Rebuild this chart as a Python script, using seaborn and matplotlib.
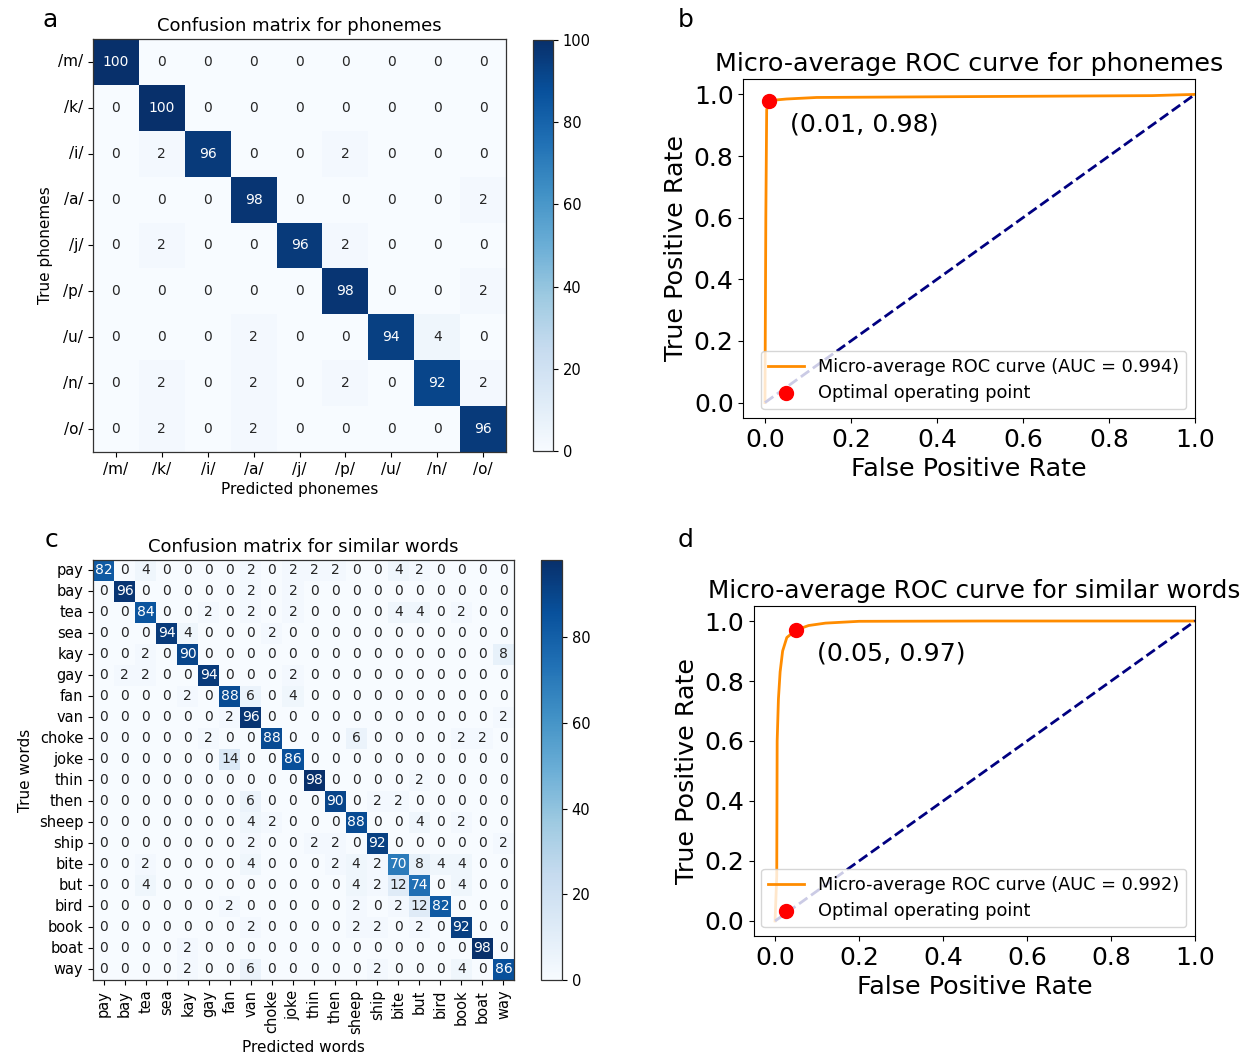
import matplotlib
matplotlib.use("Agg")
import pandas as pd
import seaborn as sns
import matplotlib.pyplot as plt

# confusion matrix values (%)
phonemes = ["/m/", "/k/", "/i/", "/a/", "/j/", "/p/", "/u/", "/n/", "/o/"]
cm_phonemes = [
    [100, 0, 0, 0, 0, 0, 0, 0, 0],
    [0, 100, 0, 0, 0, 0, 0, 0, 0],
    [0, 2, 96, 0, 0, 2, 0, 0, 0],
    [0, 0, 0, 98, 0, 0, 0, 0, 2],
    [0, 2, 0, 0, 96, 2, 0, 0, 0],
    [0, 0, 0, 0, 0, 98, 0, 0, 2],
    [0, 0, 0, 2, 0, 0, 94, 4, 0],
    [0, 2, 0, 2, 0, 2, 0, 92, 2],
    [0, 2, 0, 2, 0, 0, 0, 0, 96],
]

words = ["pay", "bay", "tea", "sea", "kay", "gay", "fan", "van", "choke", "joke",
         "thin", "then", "sheep", "ship", "bite", "but", "bird", "book", "boat", "way"]
cm_words = [
    [82, 0, 4, 0, 0, 0, 0, 2, 0, 2, 2, 2, 0, 0, 4, 2, 0, 0, 0, 0],
    [0, 96, 0, 0, 0, 0, 0, 2, 0, 2, 0, 0, 0, 0, 0, 0, 0, 0, 0, 0],
    [0, 0, 84, 0, 0, 2, 0, 2, 0, 2, 0, 0, 0, 0, 4, 4, 0, 2, 0, 0],
    [0, 0, 0, 94, 4, 0, 0, 0, 2, 0, 0, 0, 0, 0, 0, 0, 0, 0, 0, 0],
    [0, 0, 2, 0, 90, 0, 0, 0, 0, 0, 0, 0, 0, 0, 0, 0, 0, 0, 0, 8],
    [0, 2, 2, 0, 0, 94, 0, 0, 0, 2, 0, 0, 0, 0, 0, 0, 0, 0, 0, 0],
    [0, 0, 0, 0, 2, 0, 88, 6, 0, 4, 0, 0, 0, 0, 0, 0, 0, 0, 0, 0],
    [0, 0, 0, 0, 0, 0, 2, 96, 0, 0, 0, 0, 0, 0, 0, 0, 0, 0, 0, 2],
    [0, 0, 0, 0, 0, 2, 0, 0, 88, 0, 0, 0, 6, 0, 0, 0, 0, 2, 2, 0],
    [0, 0, 0, 0, 0, 0, 14, 0, 0, 86, 0, 0, 0, 0, 0, 0, 0, 0, 0, 0],
    [0, 0, 0, 0, 0, 0, 0, 0, 0, 0, 98, 0, 0, 0, 0, 2, 0, 0, 0, 0],
    [0, 0, 0, 0, 0, 0, 0, 6, 0, 0, 0, 90, 0, 2, 2, 0, 0, 0, 0, 0],
    [0, 0, 0, 0, 0, 0, 0, 4, 2, 0, 0, 0, 88, 0, 0, 4, 0, 2, 0, 0],
    [0, 0, 0, 0, 0, 0, 0, 2, 0, 0, 2, 2, 0, 92, 0, 0, 0, 0, 0, 2],
    [0, 0, 2, 0, 0, 0, 0, 4, 0, 0, 0, 2, 4, 2, 70, 8, 4, 4, 0, 0],
    [0, 0, 4, 0, 0, 0, 0, 0, 0, 0, 0, 0, 4, 2, 12, 74, 0, 4, 0, 0],
    [0, 0, 0, 0, 0, 0, 2, 0, 0, 0, 0, 0, 2, 0, 2, 12, 82, 0, 0, 0],
    [0, 0, 0, 0, 0, 0, 0, 2, 0, 0, 0, 0, 2, 2, 0, 2, 0, 92, 0, 0],
    [0, 0, 0, 0, 2, 0, 0, 0, 0, 0, 0, 0, 0, 0, 0, 0, 0, 0, 98, 0],
    [0, 0, 0, 0, 2, 0, 0, 6, 0, 0, 0, 0, 0, 2, 0, 0, 0, 4, 0, 86],
]

# ROC curves, points
fpr_phonemes = [0.0, 0.002, 0.004, 0.01, 0.05, 0.12, 0.5, 0.9, 1.0]
tpr_phonemes = [0.0, 0.6, 0.95, 0.98, 0.985, 0.99, 0.993, 0.996, 1.0]
auc_phonemes = 0.994
opt_phonemes = (0.01, 0.98)

fpr_words = [0.0, 0.004, 0.005, 0.008, 0.012, 0.018, 0.028, 0.05, 0.08, 0.12, 0.2, 0.5, 1.0]
tpr_words = [0.0, 0.15, 0.6, 0.74, 0.83, 0.9, 0.945, 0.97, 0.985, 0.993, 0.999, 1.0, 1.0]
auc_words = 0.992
opt_words = (0.05, 0.97)

chance = [0, 1]
rate_ticks = [0.0, 0.2, 0.4, 0.6, 0.8, 1.0]

fig = plt.figure(figsize=(12.47, 10.63), dpi=100)


def draw_cm(rect, cbar_rect, cm, labels, title, xlabel, ylabel, xrot, ticksize):
    ax = fig.add_axes(rect)
    cax = fig.add_axes(cbar_rect)
    df = pd.DataFrame(cm, index=labels, columns=labels)
    sns.heatmap(df, ax=ax, cbar_ax=cax, cmap="Blues", annot=True, fmt="d",
                annot_kws={"size": 10})
    for sp in ax.spines.values():
        sp.set_visible(True)
        sp.set_linewidth(0.9)
        sp.set_color("#333333")
    cb = ax.collections[0].colorbar
    cb.outline.set_linewidth(0.9)
    cb.outline.set_edgecolor("#333333")
    cb.ax.tick_params(labelsize=10.5)
    ax.set_title(title, fontsize=13)
    ax.set_xlabel(xlabel, fontsize=11)
    ax.set_ylabel(ylabel, fontsize=11)
    ax.tick_params(labelsize=ticksize)
    plt.setp(ax.get_xticklabels(), rotation=xrot)
    plt.setp(ax.get_yticklabels(), rotation=0)
    return ax


def draw_roc(rect, fpr, tpr, auc, opt, title, title_size):
    ax = fig.add_axes(rect)
    sns.lineplot(x=fpr, y=tpr, ax=ax, sort=False, estimator=None, color="darkorange",
                 lw=2, label=f"Micro-average ROC curve (AUC = {auc:.3f})")
    ax.plot(chance, chance, color="navy", lw=2, linestyle="--")
    ax.scatter([opt[0]], [opt[1]], color="red", s=100, zorder=5,
               label="Optimal operating point")
    ax.annotate(f"({opt[0]:.2f}, {opt[1]:.2f})", opt, xytext=(15, -17),
                textcoords="offset points", va="center", fontsize=18.3)
    ax.set_xlim(-0.05, 1.0)
    ax.set_ylim(-0.05, 1.05)
    ax.set_xticks(rate_ticks)
    ax.set_yticks(rate_ticks)
    ax.set_xlabel("False Positive Rate", fontsize=18.3)
    ax.set_ylabel("True Positive Rate", fontsize=18.3)
    ax.set_title(title, fontsize=title_size)
    ax.tick_params(labelsize=18)
    ax.legend(loc="lower right", fontsize=12.8, labelspacing=0.45)
    return ax


draw_cm([0.0746, 0.5748, 0.3312, 0.3885], [0.4274, 0.5757, 0.016, 0.3866],
        cm_phonemes, phonemes, "Confusion matrix for phonemes",
        "Predicted phonemes", "True phonemes", 0, 11)
draw_cm([0.0746, 0.0781, 0.3376, 0.3951], [0.4338, 0.0781, 0.0168, 0.3951],
        cm_words, words, "Confusion matrix for similar words",
        "Predicted words", "True words", 90, 10.5)

draw_roc([0.5962, 0.6068, 0.3621, 0.3189], fpr_phonemes, tpr_phonemes,
         auc_phonemes, opt_phonemes, "Micro-average ROC curve for phonemes", 18.3)
draw_roc([0.6047, 0.1195, 0.3537, 0.3104], fpr_words, tpr_words,
         auc_words, opt_words, "Micro-average ROC curve for similar words", 17.8)

for letter, x, y in [("a", 50, 20), ("b", 686, 20), ("c", 52, 540), ("d", 686, 540)]:
    fig.text(x / 1247, 1 - y / 1063, letter, fontsize=18, ha="center", va="center")

fig.savefig("out.png", dpi=100)
